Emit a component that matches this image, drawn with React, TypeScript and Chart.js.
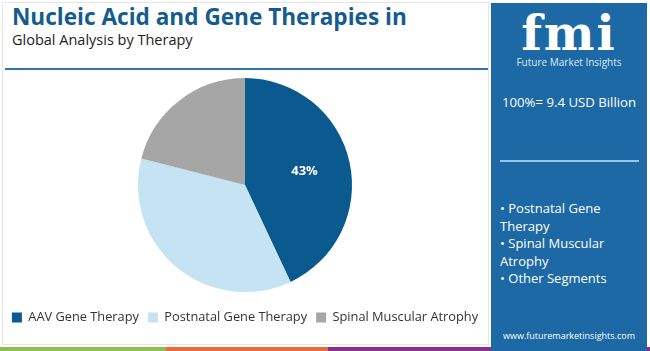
import React, { useEffect, useRef } from "react";
import { Chart, registerables } from "chart.js";

Chart.register(...registerables);

const categories = ["AAV Gene Therapy", "Postnatal Gene Therapy", "Spinal Muscular Atrophy"];
const shares = [43, 36, 21];
const sliceColors = ["#0b5a8f", "#c5e3f3", "#a6a6a6"];
const shownLabels = ["43%", "", ""];
const panelBullets = ["• Postnatal Gene", "Therapy", "• Spinal Muscular", "Atrophy", "• Other Segments"];

const labelPlugin = {
  id: "sliceLabels",
  afterDatasetsDraw(chart: any) {
    const ctx = chart.ctx;
    const meta = chart.getDatasetMeta(0);
    meta.data.forEach((arc: any, i: number) => {
      const text = shownLabels[i];
      if (!text) return;
      const { x, y, startAngle, endAngle, outerRadius } = arc.getProps(
        ["x", "y", "startAngle", "endAngle", "outerRadius"],
        true
      );
      const mid = (startAngle + endAngle) / 2;
      const r = outerRadius * 0.57;
      ctx.save();
      ctx.fillStyle = "#ffffff";
      ctx.font = "bold 13px 'Open Sans', sans-serif";
      ctx.textAlign = "center";
      ctx.textBaseline = "middle";
      ctx.fillText(text, x + Math.cos(mid) * r, y + Math.sin(mid) * r);
      ctx.restore();
    });
  },
};

export default function App() {
  const ref = useRef<HTMLCanvasElement | null>(null);
  useEffect(() => {
    document.body.style.margin = "0";
    if (!ref.current) return;
    const chart = new Chart(ref.current, {
      type: "pie",
      data: {
        labels: categories,
        datasets: [
          {
            data: shares,
            backgroundColor: sliceColors,
            borderWidth: 0,
            radius: 107,
          } as any,
        ],
      },
      options: {
        animation: false,
        responsive: false,
        maintainAspectRatio: false,
        layout: { padding: { top: 0, bottom: 0, left: 0, right: 0 } },
        plugins: {
          legend: {
            position: "bottom",
            labels: {
              boxWidth: 10,
              boxHeight: 10,
              padding: 9,
              color: "#333333",
              font: { size: 12.8, family: "'Open Sans', sans-serif" },
            },
          },
          tooltip: { enabled: false },
        },
      },
      plugins: [labelPlugin],
    });
    return () => chart.destroy();
  }, []);

  return (
    <div
      style={{
        position: "absolute",
        left: 0,
        top: 0,
        width: 650,
        height: 351,
        background: "#ffffff",
        overflow: "hidden",
        fontFamily: "'Open Sans', sans-serif",
      }}
    >
      <div
        style={{
          position: "absolute",
          left: 2,
          top: 2,
          width: 487,
          height: 343,
          border: "1px solid #e6e6e6",
          boxSizing: "border-box",
        }}
      />
      <div
        style={{
          position: "absolute",
          left: 12,
          top: 2,
          fontSize: 22.6,
          fontWeight: 700,
          color: "#155c8e",
          whiteSpace: "nowrap",
          lineHeight: "30px",
        }}
      >
        Nucleic Acid and Gene Therapies in
      </div>
      <div
        style={{
          position: "absolute",
          left: 12,
          top: 30,
          fontSize: 14.5,
          color: "#222222",
          whiteSpace: "nowrap",
          lineHeight: "20px",
        }}
      >
        Global Analysis by Therapy
      </div>
      <div
        style={{
          position: "absolute",
          left: 5,
          top: 68,
          width: 483,
          height: 2,
          background: "#2f77b0",
        }}
      />
      <canvas
        ref={ref}
        width={510}
        height={266}
        style={{ position: "absolute", left: -10, top: 68, width: 510, height: 266 }}
      />
      <div style={{ position: "absolute", left: 0, top: 347, width: 166, height: 4, background: "#8cc152" }} />
      <div style={{ position: "absolute", left: 166, top: 347, width: 162, height: 4, background: "#e8693c" }} />
      <div style={{ position: "absolute", left: 328, top: 347, width: 322, height: 4, background: "#8b2f8f" }} />
      <div
        style={{
          position: "absolute",
          left: 491,
          top: 3,
          width: 156,
          height: 348,
          background: "#1d69a6",
          color: "#ffffff",
        }}
      >
        <div
          style={{
            position: "absolute",
            left: 0,
            top: 4,
            width: 156,
            textAlign: "center",
            fontFamily: "'DejaVu Serif', serif",
            fontWeight: 700,
            fontSize: 48,
            lineHeight: "52px",
            letterSpacing: 2,
          }}
        >
          fmi
        </div>
        <div
          style={{
            position: "absolute",
            left: 0,
            top: 52,
            width: 156,
            textAlign: "center",
            fontSize: 10,
            lineHeight: "14px",
            color: "#dfeaf5",
          }}
        >
          Future Market Insights
        </div>
        <div
          style={{
            position: "absolute",
            left: 0,
            top: 89,
            width: 156,
            textAlign: "center",
            fontSize: 13.2,
            lineHeight: "20px",
            whiteSpace: "nowrap",
          }}
        >
          100%= 9.4 USD Billion
        </div>
        <div
          style={{
            position: "absolute",
            left: 9,
            top: 157,
            width: 139,
            height: 2,
            background: "#9cc3e3",
          }}
        />
        <div
          style={{
            position: "absolute",
            left: 9,
            top: 197,
            fontSize: 13,
            lineHeight: "17.6px",
          }}
        >
          {panelBullets.map((t, i) => (
            <div key={i} style={{ whiteSpace: "nowrap" }}>
              {t}
            </div>
          ))}
        </div>
        <div
          style={{
            position: "absolute",
            left: 0,
            top: 326,
            width: 156,
            textAlign: "center",
            fontSize: 9,
            lineHeight: "14px",
            whiteSpace: "nowrap",
          }}
        >
          www.futuremarketinsights.com
        </div>
      </div>
    </div>
  );
}
